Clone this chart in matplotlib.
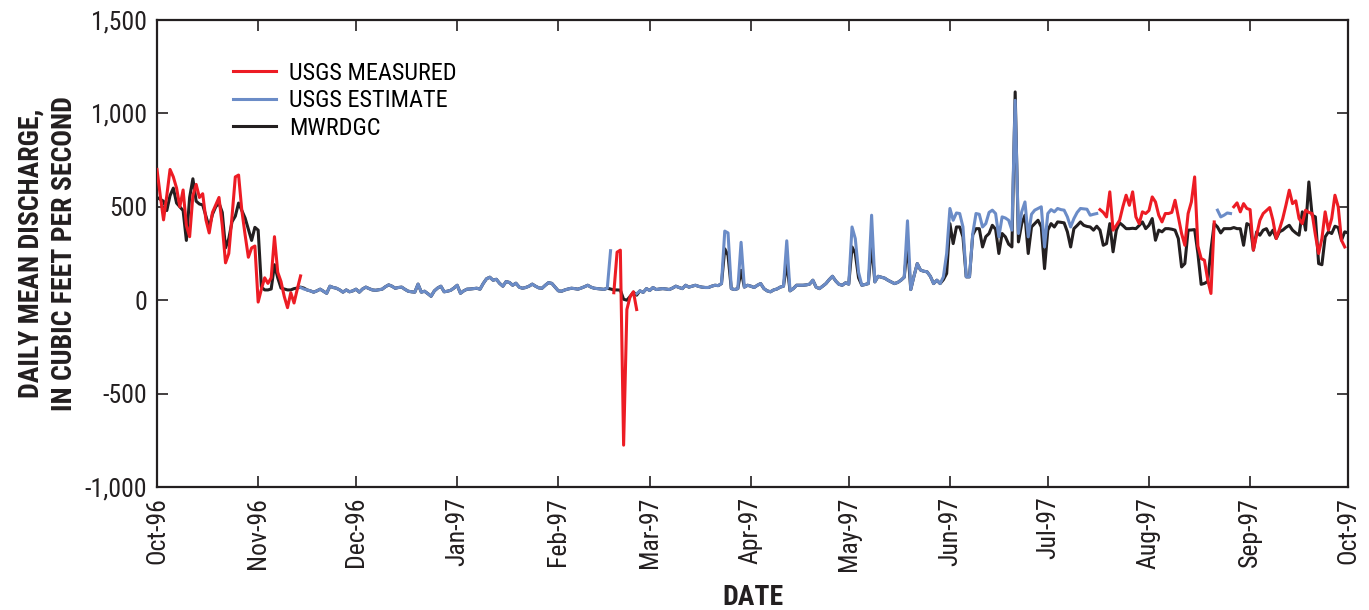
import matplotlib
matplotlib.use("Agg")
import matplotlib.pyplot as plt
import pandas as pd

plt.rcParams['font.family'] = ['Roboto Condensed', 'Archivo Narrow', 'DejaVu Sans']

# ---- data (daily mean discharge, cubic feet per second) ----
# MWRDGC, every day from 1996-10-01 to 1997-10-01
mwrdgc_start = "1996-10-01"
mwrdgc = [
    # Oct-96
    550, 540, 530, 480, 560, 600, 520, 500, 480, 320, 550, 650, 530, 515, 510, 450,
    390, 460, 500, 520, 470, 280, 330, 420, 450, 520, 480, 440, 380, 320, 390,
    # Nov-96
    375, 70, 55, 55, 60, 190, 120, 65, 60, 55, 55, 62, 65, 70, 65,
    55, 50, 43, 50, 59, 48, 37, 75, 68, 64, 55, 43, 55, 45, 50,
    # Dec-96
    59, 43, 60, 70, 62, 55, 53, 56, 59, 72, 82, 75, 64, 68, 70, 58,
    48, 45, 43, 86, 43, 48, 35, 21, 50, 65, 75, 45, 48, 53, 65,
    # Jan-97
    80, 37, 50, 59, 60, 62, 64, 59, 90, 115, 123, 107, 112, 90, 75, 100,
    95, 80, 91, 70, 64, 68, 75, 86, 75, 66, 64, 80, 94, 90, 70,
    # Feb-97
    50, 48, 55, 60, 64, 62, 59, 65, 72, 80, 70, 64, 62, 60, 58, 64,
    60, 55, 55, 54, 5, 0, 20, 43, 27, 50, 42, 62,
    # Mar-97
    52, 68, 57, 60, 62, 60, 57, 65, 75, 68, 62, 80, 70, 75, 80, 74,
    70, 68, 68, 75, 80, 78, 89, 275, 240, 62, 57, 62, 160, 70, 80,
    # Apr-97
    75, 68, 80, 89, 62, 50, 45, 55, 60, 70, 75, 200, 50, 62, 80,
    80, 80, 82, 86, 107, 70, 62, 75, 89, 110, 128, 103, 85, 80, 93,
    # May-97
    86, 285, 250, 120, 80, 84, 89, 300, 98, 128, 123, 118, 107, 98, 89, 95,
    107, 123, 300, 57, 130, 196, 161, 155, 152, 128, 89, 107, 89, 110, 143,
    # Jun-97
    410, 303, 392, 392, 339, 125, 125, 350, 383, 383, 285, 340, 357, 401, 380,
    250, 357, 339, 300, 285, 1115, 312, 410, 455, 250, 392, 410, 428, 392, 169,
    # Jul-97
    375, 410, 392, 419, 417, 414, 366, 285, 383, 400, 419, 401, 395, 392, 375, 396,
    375, 294, 303, 410, 259, 375, 414, 400, 383, 383, 385, 383, 400, 419, 383,
    # Aug-97
    401, 437, 321, 375, 366, 383, 383, 380, 375, 330, 178, 196, 375, 376, 378, 250,
    85, 90, 100, 270, 410, 392, 360, 383, 383, 383, 389, 383, 383, 294, 410,
    # Sep-97
    401, 268, 366, 348, 375, 383, 348, 375, 330, 366, 375, 390, 401, 375, 360,
    348, 473, 375, 633, 455, 446, 196, 190, 339, 366, 357, 396, 389, 321, 366,
    # Oct-97
    360,
]

# USGS estimate, three separate runs
estimate_winter_start = "1996-11-14"
estimate_winter = [
    68, 60, 55, 50, 43, 50, 59, 48, 37, 75, 68, 64, 55, 43, 55, 45, 50,
    59, 43, 60, 70, 62, 55, 53, 56, 59, 72, 82, 75, 64, 68, 70, 58,
    48, 45, 43, 86, 43, 48, 35, 21, 50, 65, 75, 45, 48, 53, 65,
    80, 37, 50, 59, 60, 62, 64, 59, 90, 115, 123, 107, 112, 90, 75, 100,
    95, 80, 91, 70, 64, 68, 75, 86, 75, 66, 64, 80, 94, 90, 70,
    50, 48, 55, 60, 64, 62, 59, 65, 72, 80, 70, 64, 62, 60, 58, 64, 265,
]
estimate_spring_start = "1997-02-25"
estimate_spring = [
    35, 50, 42, 62,
    52, 68, 57, 60, 62, 60, 57, 65, 75, 68, 62, 80, 70, 75, 80, 74,
    70, 68, 68, 75, 80, 78, 89, 370, 360, 62, 57, 62, 310, 70, 80,
    75, 68, 80, 89, 62, 50, 45, 55, 60, 70, 75, 318, 50, 62, 80,
    80, 80, 82, 86, 107, 70, 62, 75, 89, 110, 128, 103, 85, 80, 93,
    86, 392, 330, 150, 80, 84, 89, 455, 98, 128, 123, 118, 107, 98, 89, 95,
    107, 123, 425, 57, 130, 196, 161, 155, 152, 128, 89, 107, 89, 125, 250,
    491, 428, 467, 464, 392, 125, 125, 357, 464, 460, 392, 410, 470, 482, 464,
    339, 446, 440, 428, 375, 1070, 357, 473, 526, 339, 460, 482, 491, 500, 285,
    464, 485, 473, 491, 485, 482, 446, 392, 437, 470, 491, 489, 487, 455, 460, 464,
]
estimate_aug_start = "1997-08-22"
estimate_aug = [482, 446, 455, 467, 464]

# USGS measured, four separate runs
measured_fall_start = "1996-10-01"
measured_fall = [
    700, 560, 430, 560, 700, 660, 600, 500, 590, 400, 340, 560, 620, 550, 570,
    430, 360, 470, 510, 550, 400, 200, 250, 450, 660, 670, 480, 350, 230, 280,
    290, -10, 60, 120, 90, 120, 340, 150, 100, 20, -40, 40, -15, 60, 130,
]
measured_feb_start = "1997-02-18"
measured_feb = [40, 257, 268, -776, -50, 20, 45, -50]
measured_summer_start = "1997-07-17"
measured_summer = [
    485, 470, 446, 580, 375, 400, 428, 500, 562, 508, 580, 446, 410, 473, 464,
    480, 553, 526, 455, 419, 464, 464, 470, 535, 446, 357, 294, 464, 526, 660,
    290, 223, 214, 110, 36, 419,
]
measured_sep_start = "1997-08-27"
measured_sep = [
    500, 521, 473, 517, 491,
    485, 268, 350, 428, 464, 480, 496, 428, 330, 380, 437, 510, 589, 517, 532,
    437, 410, 482, 470, 464, 350, 250, 330, 473, 375, 437, 562, 500, 321, 285,
]

month_ticks = pd.date_range("1996-10-01", "1997-10-01", freq="MS")
month_labels = ["Oct-96", "Nov-96", "Dec-96", "Jan-97", "Feb-97", "Mar-97", "Apr-97",
                "May-97", "Jun-97", "Jul-97", "Aug-97", "Sep-97", "Oct-97"]
y_ticks = [-1000, -500, 0, 500, 1000, 1500]
y_labels = ["-1,000", "-500", "0", "500", "1,000", "1,500"]

RED = "#ED1C24"
BLUE = "#6B8CC7"
BLACK = "#231F20"
LW = 2.2


def days(start, values):
    return pd.date_range(start, periods=len(values), freq="D")


fig = plt.figure(figsize=(13.69, 6.10), dpi=100)
ax = fig.add_axes([157 / 1369, 1 - 487 / 610, 1191 / 1369, 467 / 610])

black_line, = ax.plot(days(mwrdgc_start, mwrdgc), mwrdgc, color=BLACK, lw=LW, zorder=2)

blue_line = None
for start, vals in [(estimate_winter_start, estimate_winter),
                    (estimate_spring_start, estimate_spring),
                    (estimate_aug_start, estimate_aug)]:
    blue_line, = ax.plot(days(start, vals), vals, color=BLUE, lw=LW, zorder=3)

red_line = None
for start, vals in [(measured_fall_start, measured_fall),
                    (measured_feb_start, measured_feb),
                    (measured_summer_start, measured_summer),
                    (measured_sep_start, measured_sep)]:
    red_line, = ax.plot(days(start, vals), vals, color=RED, lw=LW, zorder=4)

ax.set_xlim(month_ticks[0], month_ticks[-1])
ax.set_ylim(-1000, 1500)
ax.set_xticks(month_ticks)
ax.set_xticklabels(month_labels, rotation=90)
ax.set_yticks(y_ticks)
ax.set_yticklabels(y_labels)
ax.tick_params(direction="in", length=8, width=1.2, top=True, right=True,
               labelsize=18.5, colors="#231F20", pad=7)
for sp in ax.spines.values():
    sp.set_linewidth(1.6)
    sp.set_color("#231F20")

ax.set_ylabel("DAILY MEAN DISCHARGE,\nIN CUBIC FEET PER SECOND", fontsize=20,
              fontweight="bold", linespacing=1.3, color="#231F20")
ax.yaxis.set_label_coords(-0.066, 0.5)
ax.set_xlabel("DATE", fontsize=20, fontweight="bold", color="#231F20")
ax.xaxis.set_label_coords(0.5, -0.208)

ax.legend([red_line, blue_line, black_line], ["USGS MEASURED", "USGS ESTIMATE", "MWRDGC"],
          loc="upper left", bbox_to_anchor=(76 / 1191, 1 - 42 / 467), frameon=False,
          fontsize=17.5, handlelength=1.75, handletextpad=0.55, labelspacing=0.18,
          borderpad=0, borderaxespad=0)

fig.savefig("out.png", dpi=100)
